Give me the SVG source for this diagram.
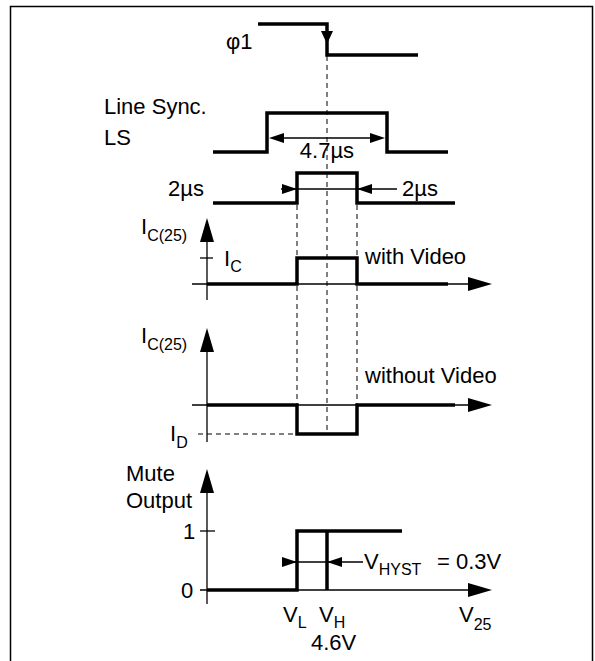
<svg xmlns="http://www.w3.org/2000/svg" width="595" height="661" viewBox="0 0 595 661">
<style>
.t{font-family:"Liberation Sans",Arial,sans-serif;font-size:22px;fill:#000}
.s{font-family:"Liberation Sans",Arial,sans-serif;font-size:16px;fill:#000}
.w{fill:none;stroke:#000;stroke-width:3.5;stroke-linejoin:miter}
.n{fill:none;stroke:#000;stroke-width:1.3}
.d{fill:none;stroke:#000;stroke-width:1;stroke-dasharray:5,4}
.a{fill:#000;stroke:none}
</style>
<rect x="10.5" y="6.5" width="582" height="700" fill="none" stroke="#000" stroke-width="1.5"/>
<g id="guides">
<line class="d" x1="327" y1="56" x2="327" y2="432"/>
<line class="d" x1="297" y1="205" x2="297" y2="432"/>
<line class="d" x1="357" y1="205" x2="357" y2="432"/>
<line class="d" x1="198" y1="434" x2="297" y2="434"/>
</g>
<g id="phi1">
<polyline class="w" points="258,24 327,24 327,55 418,55"/>
<polygon class="a" points="321,31 333,31 327,44"/>
<text class="t" x="226" y="49">φ1</text>
</g>
<g id="linesync">
<polyline class="w" points="213,152 267,152 267,113 387,113 387,152 448,152"/>
<line class="n" x1="272" y1="138" x2="382" y2="138"/>
<polygon class="a" points="269,138 284,133 284,143"/>
<polygon class="a" points="385,138 370,133 370,143"/>
<text class="t" x="327" y="158" text-anchor="middle">4.7µs</text>
<text class="t" x="104" y="114">Line Sync.</text>
<text class="t" x="104" y="145">LS</text>
</g>
<g id="pulse2us">
<polyline class="w" points="213,203 297,203 297,173 357,173 357,203 455,203"/>
<line class="n" x1="281" y1="189" x2="397" y2="189"/>
<polygon class="a" points="297,189 282,184 282,194"/>
<polygon class="a" points="357,189 372,184 372,194"/>
<text class="t" x="168" y="196">2µs</text>
<text class="t" x="402" y="196">2µs</text>
</g>
<g id="withvideo">
<line class="n" x1="207" y1="238" x2="207" y2="300"/>
<polygon class="a" points="207,218 200,242 214,242"/>
<line class="n" x1="192" y1="284" x2="470" y2="284"/>
<polygon class="a" points="492,284 468,277 468,291"/>
<line class="n" x1="200" y1="258" x2="213" y2="258"/>
<polyline class="w" points="207,284 297,284 297,258 357,258 357,284 448,284"/>
<text class="t" x="141" y="234">I<tspan class="s" dy="7">C(25)</tspan></text>
<text class="t" x="224" y="266">I<tspan class="s" dy="6">C</tspan></text>
<text class="t" x="365" y="264">with Video</text>
</g>
<g id="withoutvideo">
<line class="n" x1="207" y1="348" x2="207" y2="442"/>
<polygon class="a" points="207,328 200,352 214,352"/>
<line class="n" x1="192" y1="405" x2="470" y2="405"/>
<polygon class="a" points="492,405 468,398 468,412"/>
<polyline class="w" points="207,405 297,405 297,434 357,434 357,405 455,405"/>
<text class="t" x="141" y="343">I<tspan class="s" dy="7">C(25)</tspan></text>
<text class="t" x="170" y="441">I<tspan class="s" dy="7">D</tspan></text>
<text class="t" x="365" y="383">without Video</text>
</g>
<g id="mute">
<line class="n" x1="207" y1="488" x2="207" y2="604"/>
<polygon class="a" points="207,469 200,493 214,493"/>
<line class="n" x1="200" y1="590" x2="470" y2="590"/>
<polygon class="a" points="492,590 468,583 468,597"/>
<line class="n" x1="200" y1="531" x2="215" y2="531"/>
<polyline class="w" points="207,590 297,590 297,531 402,531"/>
<line class="w" x1="327" y1="531" x2="327" y2="590"/>
<line class="n" x1="282" y1="562" x2="363" y2="562"/>
<polygon class="a" points="297,562 282,557 282,567"/>
<polygon class="a" points="327,562 342,557 342,567"/>
<text class="t" x="126" y="481">Mute</text>
<text class="t" x="126" y="508">Output</text>
<text class="t" x="183" y="539">1</text>
<text class="t" x="181" y="598">0</text>
<text class="t" x="364" y="569">V<tspan class="s" dy="6">HYST</tspan></text>
<text class="t" x="437" y="569">= 0.3V</text>
<text class="t" x="283" y="622">V<tspan class="s" dy="6">L</tspan></text>
<text class="t" x="319" y="622">V<tspan class="s" dy="6">H</tspan></text>
<text class="t" x="311" y="650">4.6V</text>
<text class="t" x="459" y="622">V<tspan class="s" dy="8">25</tspan></text>
</g>
</svg>
